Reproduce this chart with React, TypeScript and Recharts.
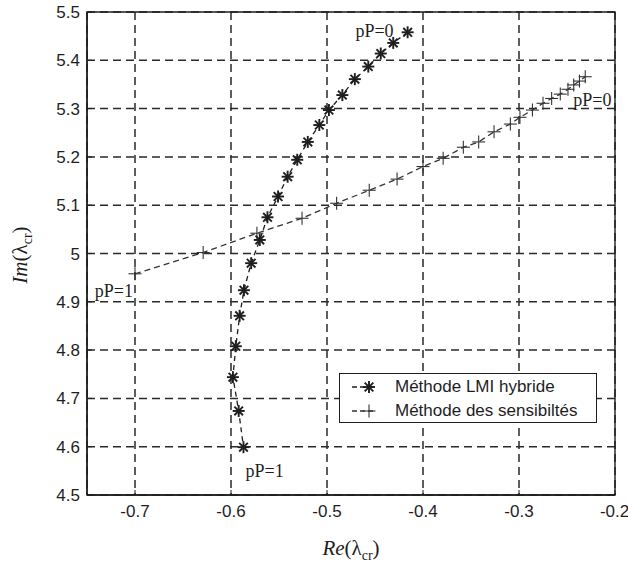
import React from 'react';
import {
  ScatterChart,
  Scatter,
  XAxis,
  YAxis,
  CartesianGrid,
  ReferenceArea,
  ReferenceDot,
} from 'recharts';

// Méthode LMI hybride (asterisks), from pP=0 (top) to pP=1 (bottom)
const lmiRe = [
  -0.416, -0.431, -0.444, -0.457, -0.471, -0.484, -0.498, -0.508, -0.52, -0.531, -0.541,
  -0.551, -0.562, -0.57, -0.579, -0.5865, -0.591, -0.595, -0.598, -0.592, -0.587,
];
const lmiIm = [
  5.458, 5.436, 5.414, 5.387, 5.361, 5.328, 5.297, 5.266, 5.231, 5.194, 5.159,
  5.118, 5.075, 5.028, 4.98, 4.924, 4.871, 4.808, 4.744, 4.674, 4.599,
];

// Méthode des sensibiltés (plus signs), from pP=1 (left) to pP=0 (right)
const sensRe = [
  -0.7, -0.629, -0.573, -0.526, -0.49, -0.456, -0.427, -0.4, -0.379, -0.358, -0.342,
  -0.326, -0.309, -0.299, -0.286, -0.275, -0.266, -0.257, -0.249, -0.243, -0.237, -0.231,
];
const sensIm = [
  4.958, 5.002, 5.042, 5.073, 5.104, 5.131, 5.154, 5.18, 5.197, 5.22, 5.231,
  5.252, 5.268, 5.282, 5.297, 5.311, 5.321, 5.33, 5.34, 5.349, 5.357, 5.366,
];

const xTicks = [-0.7, -0.6, -0.5, -0.4, -0.3, -0.2];
const yTicks = [4.5, 4.6, 4.7, 4.8, 4.9, 5, 5.1, 5.2, 5.3, 5.4, 5.5];

const lmiData = lmiRe.map((x, i) => ({ x, y: lmiIm[i] }));
const sensData = sensRe.map((x, i) => ({ x, y: sensIm[i] }));

const ink = '#1e1e1e';
const sans = '"Liberation Sans", Arial, sans-serif';
const serif = '"Liberation Serif", "Times New Roman", serif';

const Star = (props: any) => {
  const { cx, cy } = props;
  const r = 6;
  const d = r * 0.72;
  return (
    <g stroke={ink} strokeWidth={1.9}>
      <line x1={cx - r} y1={cy} x2={cx + r} y2={cy} />
      <line x1={cx} y1={cy - r} x2={cx} y2={cy + r} />
      <line x1={cx - d} y1={cy - d} x2={cx + d} y2={cy + d} />
      <line x1={cx - d} y1={cy + d} x2={cx + d} y2={cy - d} />
    </g>
  );
};

const Plus = (props: any) => {
  const { cx, cy } = props;
  const r = 6.5;
  return (
    <g stroke="#333" strokeWidth={1.1}>
      <line x1={cx - r} y1={cy} x2={cx + r} y2={cy} />
      <line x1={cx} y1={cy - r} x2={cx} y2={cy + r} />
    </g>
  );
};

const endLabel = (text: string, dx: number, dy: number, anchor: string) => (props: any) => {
  const { viewBox } = props;
  const cx = viewBox.x + viewBox.width / 2;
  const cy = viewBox.y + viewBox.height / 2;
  return (
    <text
      x={cx + dx}
      y={cy + dy}
      textAnchor={anchor}
      dominantBaseline="central"
      fontFamily={serif}
      fontSize={18}
      fill={ink}
    >
      {text}
    </text>
  );
};

export default function App() {
  return (
    <div
      style={{
        position: 'absolute',
        left: 0,
        top: 0,
        width: 628,
        height: 568,
        background: '#fff',
        overflow: 'hidden',
      }}
    >
      <ScatterChart width={628} height={568} margin={{ top: 12, right: 13, bottom: 0, left: 0 }}>
        <CartesianGrid stroke="#2a2a2a" strokeDasharray="8 5" strokeWidth={1.5} />
        <XAxis
          type="number"
          dataKey="x"
          domain={[-0.75, -0.2]}
          ticks={xTicks}
          height={73}
          tickSize={-5}
          tickMargin={15}
          tickFormatter={(v: number) => v.toFixed(1)}
          tick={{ fontSize: 17, fill: ink, fontFamily: sans }}
          axisLine={{ stroke: ink, strokeWidth: 1.4 }}
          tickLine={{ stroke: ink }}
          allowDataOverflow
        />
        <YAxis
          type="number"
          dataKey="y"
          domain={[4.5, 5.5]}
          ticks={yTicks}
          width={87}
          tickSize={-5}
          tickMargin={12}
          tickFormatter={(v: number) => String(Number(v.toFixed(1)))}
          tick={{ fontSize: 17, fill: ink, fontFamily: sans }}
          axisLine={{ stroke: ink, strokeWidth: 1.4 }}
          tickLine={{ stroke: ink }}
          allowDataOverflow
        />
        <ReferenceArea
          x1={-0.75}
          x2={-0.2}
          y1={4.5}
          y2={5.5}
          fill="none"
          stroke={ink}
          strokeWidth={1.4}
        />
        <Scatter
          data={sensData}
          shape={Plus}
          line={{ stroke: '#333', strokeDasharray: '6 4', strokeWidth: 1.3 }}
          lineType="joint"
          isAnimationActive={false}
        />
        <Scatter
          data={lmiData}
          shape={Star}
          line={{ stroke: ink, strokeDasharray: '5 4', strokeWidth: 1.3 }}
          lineType="joint"
          isAnimationActive={false}
        />
        <ReferenceDot
          x={lmiRe[0]}
          y={lmiIm[0]}
          r={0}
          stroke="none"
          label={{ content: endLabel('pP=0', -14, -1, 'end') }}
        />
        <ReferenceDot
          x={lmiRe[lmiRe.length - 1]}
          y={lmiIm[lmiIm.length - 1]}
          r={0}
          stroke="none"
          label={{ content: endLabel('pP=1', 2, 24, 'start') }}
        />
        <ReferenceDot
          x={sensRe[sensRe.length - 1]}
          y={sensIm[sensIm.length - 1]}
          r={0}
          stroke="none"
          label={{ content: endLabel('pP=0', -12, 23, 'start') }}
        />
        <ReferenceDot
          x={sensRe[0]}
          y={sensIm[0]}
          r={0}
          stroke="none"
          label={{ content: endLabel('pP=1', -2, 17, 'end') }}
        />
      </ScatterChart>

      {/* legend */}
      <div
        style={{
          position: 'absolute',
          left: 339,
          top: 373,
          width: 256,
          height: 48,
          border: `1.5px solid ${ink}`,
          background: '#fff',
          fontFamily: sans,
          fontSize: 17,
          color: ink,
        }}
      >
        <svg width={50} height={48} style={{ position: 'absolute', left: 0, top: 0 }}>
          <line x1={12} y1={13} x2={34} y2={13} stroke={ink} strokeWidth={1.3} strokeDasharray="5 3" />
          <Star cx={29} cy={13} />
          <line x1={12} y1={37} x2={34} y2={37} stroke="#333" strokeWidth={1.3} strokeDasharray="5 3" />
          <Plus cx={29} cy={37} />
        </svg>
        <div style={{ position: 'absolute', left: 55, top: 3, lineHeight: '20px', whiteSpace: 'nowrap' }}>
          Méthode LMI hybride
        </div>
        <div style={{ position: 'absolute', left: 55, top: 27, lineHeight: '20px', whiteSpace: 'nowrap' }}>
          Méthode des sensibiltés
        </div>
      </div>

      {/* axis titles */}
      <div
        style={{
          position: 'absolute',
          left: 351,
          top: 550,
          transform: 'translate(-50%, -50%)',
          fontFamily: serif,
          fontSize: 21,
          color: ink,
          whiteSpace: 'nowrap',
        }}
      >
        <i>Re</i>(λ<sub style={{ fontSize: 14 }}>cr</sub>)
      </div>
      <div
        style={{
          position: 'absolute',
          left: 22,
          top: 255,
          transform: 'translate(-50%, -50%) rotate(-90deg)',
          fontFamily: serif,
          fontSize: 21,
          color: ink,
          whiteSpace: 'nowrap',
        }}
      >
        <i>Im</i>(λ<sub style={{ fontSize: 14 }}>cr</sub>)
      </div>
    </div>
  );
}
